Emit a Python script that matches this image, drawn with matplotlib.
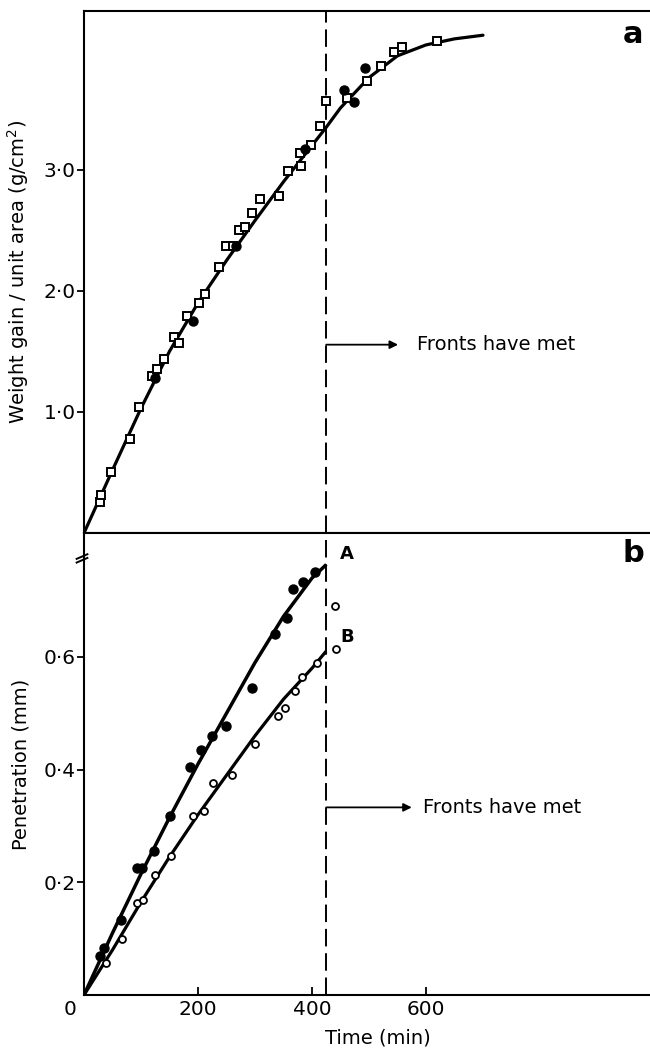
import matplotlib
matplotlib.use("Agg")
import matplotlib.pyplot as plt
from matplotlib.transforms import ScaledTranslation

# ---- (a) weight gain per unit area ----
wg_sq_t = [28, 30, 47, 81, 97, 119, 128, 141, 158, 167, 180, 202, 212,
           236, 250, 262, 272, 282, 294, 308, 342, 358, 379, 380, 398, 414,
           425, 461, 497, 521, 544, 558, 619]
wg_sq_v = [0.26, 0.31, 0.50, 0.78, 1.04, 1.30, 1.35, 1.44, 1.62, 1.57,
           1.79, 1.90, 1.97, 2.20, 2.37, 2.37, 2.50, 2.53, 2.64, 2.76,
           2.78, 2.99, 3.14, 3.03, 3.20, 3.36, 3.57, 3.59, 3.73, 3.86,
           3.97, 4.01, 4.06]
wg_dot_t = [125, 191, 266, 388, 456, 474, 493]
wg_dot_v = [1.28, 1.75, 2.37, 3.17, 3.66, 3.56, 3.84]
wg_fit_t = [0, 50, 100, 150, 200, 250, 300, 350, 400, 425, 450, 500, 550,
            600, 650, 700]
wg_fit_v = [0.0, 0.52, 1.03, 1.50, 1.90, 2.25, 2.58, 2.90, 3.20, 3.35,
            3.51, 3.76, 3.94, 4.03, 4.08, 4.11]

# ---- (b) penetration ----
pa_t = [28, 35, 65, 93, 101, 123, 151, 186, 205, 224, 250, 295, 335, 356,
        366, 384, 405]
pa_v = [0.07, 0.083, 0.133, 0.226, 0.226, 0.256, 0.318, 0.405, 0.435, 0.46,
        0.478, 0.545, 0.64, 0.669, 0.72, 0.733, 0.751]
pa_fit_t = [0, 50, 100, 150, 200, 250, 300, 350, 400, 423]
pa_fit_v = [0.0, 0.11, 0.215, 0.315, 0.41, 0.50, 0.59, 0.672, 0.74, 0.762]

pb_t = [39, 67, 93, 104, 125, 152, 191, 210, 227, 260, 300, 340, 352, 370,
        382, 409, 440, 442]
pb_v = [0.057, 0.10, 0.164, 0.169, 0.213, 0.247, 0.317, 0.326, 0.377, 0.39,
        0.445, 0.495, 0.51, 0.54, 0.564, 0.59, 0.69, 0.614]
pb_fit_t = [0, 50, 100, 150, 200, 250, 300, 350, 400, 423]
pb_fit_v = [0.0, 0.08, 0.165, 0.245, 0.32, 0.39, 0.46, 0.525, 0.58, 0.608]

t_meet = 425
x_ticks = [0, 200, 400, 600]
x_ticklabels = ["0", "200", "400", "600"]
a_ticks = [1.0, 2.0, 3.0]
a_ticklabels = ["1·0", "2·0", "3·0"]
b_ticks = [0.2, 0.4, 0.6]
b_ticklabels = ["0·2", "0·4", "0·6"]

plt.rcParams["font.family"] = ["DejaVu Sans"]

W, H = 650, 1051
fig = plt.figure(figsize=(W / 100, H / 100), dpi=100)
left = 84 / W
ax_a = fig.add_axes([left, 1 - 533 / H, 1 - left, (533 - 11) / H])
ax_b = fig.add_axes([left, 1 - 995 / H, 1 - left, (995 - 533) / H])

lw_spine = 1.5
for ax in (ax_a, ax_b):
    ax.set_xlim(0, 993)
    ax.spines["right"].set_visible(False)
    for s in ("left", "top", "bottom"):
        ax.spines[s].set_linewidth(lw_spine)
    ax.tick_params(axis="y", direction="out", length=5, width=1.3, pad=1,
                   labelsize=14.5)
    ax.tick_params(axis="x", direction="in", length=6, width=1.3, labelsize=14.5)

ax_a.set_ylim(0, 4.31)
ax_b.set_ylim(0, 0.82)

# panel a
ax_a.plot(wg_fit_t, wg_fit_v, color="black", lw=2.3, solid_capstyle="round", zorder=2)
ax_a.plot(wg_sq_t, wg_sq_v, ls="none", marker="s", ms=5.5, mfc="white", mec="black",
          mew=1.4, zorder=3)
ax_a.plot(wg_dot_t, wg_dot_v, ls="none", marker="o", ms=6.5, mfc="black",
          mec="black", zorder=3)
ax_a.set_yticks(a_ticks)
ax_a.set_yticklabels(a_ticklabels)
ax_a.set_xticks([])
ax_a.axvline(t_meet, color="black", lw=1.4, dashes=(9, 3.5), zorder=1)
ax_a.annotate("", xy=(551, 1.555), xytext=(t_meet, 1.555),
              arrowprops=dict(arrowstyle="-|>", color="black", lw=1.3,
                              mutation_scale=12, shrinkA=0, shrinkB=0))
ax_a.text(584, 1.555, "Fronts have met", fontsize=14, va="center", ha="left")
ax_a.text(963, 4.12, "a", fontsize=22, fontweight="bold", ha="center", va="center")
ax_a.set_ylabel("Weight gain / unit area (g/cm$^2$)", fontsize=14)
ax_a.yaxis.set_label_coords(-0.094, 0.5)

# panel b
ax_b.plot(pa_fit_t, pa_fit_v, color="black", lw=2.5, zorder=2)
ax_b.plot(pb_fit_t, pb_fit_v, color="black", lw=2.3, zorder=2)
ax_b.plot(pa_t, pa_v, ls="none", marker="o", ms=6.5, mfc="black", mec="black",
          zorder=3)
ax_b.plot(pb_t, pb_v, ls="none", marker="o", ms=5, mfc="white", mec="black",
          mew=1.3, zorder=3)
ax_b.axvline(t_meet, color="black", lw=1.4, dashes=(9, 3.5), zorder=1)
ax_b.annotate("", xy=(575, 0.333), xytext=(t_meet, 0.333),
              arrowprops=dict(arrowstyle="-|>", color="black", lw=1.3,
                              mutation_scale=12, shrinkA=0, shrinkB=0))
ax_b.text(595, 0.333, "Fronts have met", fontsize=14, va="center", ha="left")
ax_b.text(963, 0.783, "b", fontsize=22, fontweight="bold", ha="center", va="center")
ax_b.text(461, 0.783, "A", fontsize=13, fontweight="bold", ha="center", va="center")
ax_b.text(461, 0.635, "B", fontsize=13, fontweight="bold", ha="center", va="center")
ax_b.set_yticks(b_ticks)
ax_b.set_yticklabels(b_ticklabels)
ax_b.set_xticks(x_ticks)
ax_b.set_xticklabels(x_ticklabels)
ax_b.xaxis.get_majorticklabels()[0].set_transform(
    ax_b.xaxis.get_majorticklabels()[0].get_transform()
    + ScaledTranslation(-14 / 100, 0, fig.dpi_scale_trans))
ax_b.set_xlabel("Time (min)", fontsize=14)
ax_b.xaxis.set_label_coords(0.52, -0.072)
ax_b.set_ylabel("Penetration (mm)", fontsize=14)
ax_b.yaxis.set_label_coords(-0.094, 0.5)

# axis break marks on the left spine
for dy in (0.0, 0.008):
    ax_b.plot([-0.013, 0.006], [0.936 + dy, 0.946 + dy], color="black", lw=1.4,
              transform=ax_b.transAxes, clip_on=False)

fig.savefig("out.png", dpi=100)
